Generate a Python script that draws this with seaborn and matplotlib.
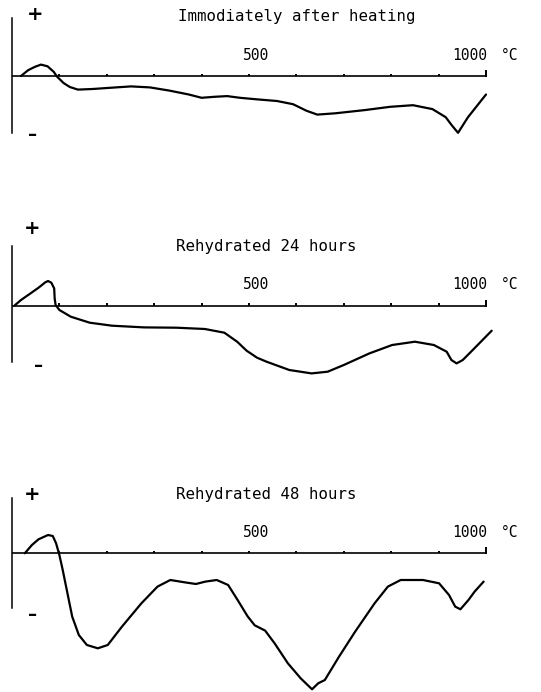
import numpy as np
import pandas as pd
import matplotlib
matplotlib.use('Agg')
import matplotlib.pyplot as plt
import seaborn as sns

sns.set_style('white')
plt.rcParams['font.family'] = ['DejaVu Sans Mono', 'DejaVu Sans']
plt.rcParams['text.color'] = 'black'

# DTA traces: temperature (degC) and deflection (arbitrary units, + exo)
temp_heated = [19, 34, 48, 61, 75, 88, 95, 109, 122, 139, 170, 210, 251, 291, 332, 373, 400, 427,
               454, 481, 518, 559, 593, 621, 644, 682, 744, 798, 846, 887, 915, 928, 941, 962, 1000]
dta_heated = [0, 5.8, 9.1, 11.4, 9.7, 4.2, -0.6, -7.1, -11, -13.6, -13, -11.7, -10.4, -11.4, -14.6,
              -18.5, -21.8, -20.8, -20.1, -21.8, -23.4, -25, -28.2, -34.7, -38.6, -37.3, -34.1,
              -30.8, -29.2, -33.1, -41.2, -49.4, -56.8, -41.2, -18.5]

temp_24h = [5, 19, 36, 56, 70, 76, 83, 89, 90, 92, 100, 124, 164, 211, 279, 347, 407, 448, 475,
            495, 517, 537, 585, 632, 666, 700, 754, 802, 850, 890, 917, 927, 938, 951, 972, 1012]
dta_24h = [0, 5.7, 11.3, 18, 23.3, 24.7, 23, 17.3, 7.3, 0.7, -4.3, -11, -17, -20, -21.7, -22,
           -23.3, -27, -36, -45, -52, -56, -64.3, -67.7, -66, -59.3, -47.7, -39.3, -36, -39.3,
           -46, -54.3, -57.7, -54.3, -44.3, -25]

temp_48h = [27, 42, 56, 76, 86, 93, 100, 107, 117, 127, 141, 158, 181, 202, 232, 273, 307, 334,
            368, 388, 408, 432, 456, 476, 497, 512, 534, 554, 582, 609, 633, 646, 660, 690, 724,
            765, 793, 820, 867, 901, 922, 935, 946, 963, 976, 995]
dta_48h = [0, 8.3, 14, 18.3, 17.3, 10, -1.7, -16.7, -40, -63.3, -81.7, -91.7, -95, -91.7, -73.3,
           -50, -33.3, -26.7, -29.3, -30.7, -28.3, -26.7, -31.7, -46.7, -63, -72, -77.3, -90,
           -110, -125, -136, -130, -126.7, -103.3, -78.3, -50, -33.3, -26.7, -26.7, -30, -41.7,
           -53.3, -56, -46.7, -38.3, -28.3]

titles = ['Immodiately after heating', 'Rehydrated 24 hours', 'Rehydrated 48 hours']
tick_temps = [100, 200, 300, 400, 500, 600, 700, 800, 900, 1000]

W, H = 541, 692
fig = plt.figure(figsize=(W / 100, H / 100), dpi=100)

# pixel layout for each panel
panels = [
    dict(t=temp_heated, d=dta_heated, top=0, bot=190, base=76, vtop=58, vbot=-57,
         tx=601, ty=59, py=61, px=48, my=-59, mx=44),
    dict(t=temp_24h, d=dta_24h, top=205, bot=420, base=305.7, vtop=60, vbot=-56,
         tx=536, ty=59.7, py=76.7, px=42, my=-60, mx=56),
    dict(t=temp_48h, d=dta_48h, top=465, bot=692, base=553.3, vtop=55, vbot=-55,
         tx=536, ty=58.3, py=58.3, px=42, my=-61.7, mx=44),
]

x0_px, px_per_deg = 12, 0.474
xmin = -x0_px / px_per_deg
xmax = (W - x0_px) / px_per_deg

for title, p in zip(titles, panels):
    ax = fig.add_axes([0, 1 - p['bot'] / H, 1, (p['bot'] - p['top']) / H])
    ax.set_xlim(xmin, xmax)
    ax.set_ylim(-(p['bot'] - p['base']), p['base'] - p['top'])
    for s in ['right', 'bottom', 'top']:
        ax.spines[s].set_visible(False)
    ax.spines['left'].set_position(('data', 0))
    ax.spines['left'].set_bounds(p['vbot'], p['vtop'])
    ax.spines['left'].set_linewidth(1.1)
    ax.spines['left'].set_color('black')
    ax.set_yticks([])
    ax.set_xticks([])

    # temperature axis
    ax.plot([0, 1000], [0, 0], color='black', lw=1.2, solid_capstyle='butt')
    ax.vlines(tick_temps[:-1], 0, 2.5, color='black', lw=1.4)
    ax.vlines([1000], -1, 6, color='black', lw=1.4)

    df = pd.DataFrame({'T': p['t'], 'dT': p['d']})
    sns.lineplot(data=df, x='T', y='dT', ax=ax, color='black', lw=1.6, sort=False,
                 solid_joinstyle='round', solid_capstyle='round')
    ax.set_xlabel('')
    ax.set_ylabel('')

    ax.text(515, 21, '500', ha='center', va='center', fontsize=10.5)
    ax.text(966, 21, '1000', ha='center', va='center', fontsize=10.5)
    ax.text(1049, 21, '°C', ha='center', va='center', fontsize=10.5)
    ax.text(p['tx'], p['ty'], title, ha='center', va='center', fontsize=11.3)
    ax.text(p['px'], p['py'], '+', ha='center', va='center', fontsize=14,
            fontweight='bold', family='DejaVu Sans')
    ax.text(p['mx'], p['my'], '–', ha='center', va='center', fontsize=13,
            fontweight='bold', family='DejaVu Sans')

fig.savefig('out.png', dpi=100, facecolor='white')
